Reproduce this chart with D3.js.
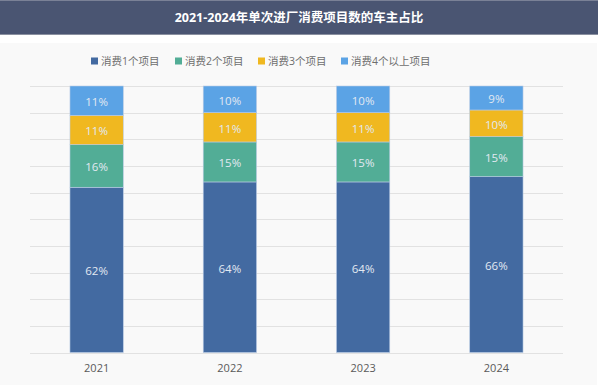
<!DOCTYPE html>
<html>
<head>
<meta charset="utf-8">
<script src="https://cdn.jsdelivr.net/npm/d3@7"></script>
<style>
  body { margin: 0; background: #ffffff; }
  svg { display: block; font-family: "Open Sans", "Noto Sans CJK SC", sans-serif; }
</style>
</head>
<body>
<svg id="chart"></svg>
<script>
const title = "2021-2024年单次进厂消费项目数的车主占比";
const years = ["2021", "2022", "2023", "2024"];
const seriesNames = ["消费1个项目", "消费2个项目", "消费3个项目", "消费4个以上项目"];
const one = [62, 64, 64, 66];
const two = [16, 15, 15, 15];
const three = [11, 11, 11, 10];
const fourPlus = [11, 10, 10, 9];
const yTicks = [0, 10, 20, 30, 40, 50, 60, 70, 80, 90, 100];

const colors = {
    "消费1个项目": "#436aa1",
    "消费2个项目": "#52ad96",
    "消费3个项目": "#f0b820",
    "消费4个以上项目": "#5ba3e5"
};

const W = 600, H = 385;
const svg = d3.select("#chart").attr("width", W).attr("height", H);

// panels
svg.append("rect").attr("x", 0).attr("y", 43).attr("width", 597).attr("height", H - 43).attr("fill", "#f9f9f9");
svg.append("rect").attr("x", 0).attr("y", 0).attr("width", 598).attr("height", 35).attr("fill", "#4a5572");
svg.append("line").attr("x1", 0).attr("x2", 598).attr("y1", 0.5).attr("y2", 0.5).attr("stroke", "#7a8196");
svg.append("line").attr("x1", 0).attr("x2", 598).attr("y1", 34.5).attr("y2", 34.5).attr("stroke", "#8a90a0");
svg.append("text")
    .attr("x", 299).attr("y", 17)
    .attr("text-anchor", "middle").attr("dominant-baseline", "central")
    .attr("fill", "#ffffff").attr("font-size", 12.5).attr("font-weight", "bold")
    .text(title);

// legend
const legendX = [91, 175, 258, 341];
const legend = svg.append("g");
seriesNames.forEach((name, i) => {
    const g = legend.append("g").attr("transform", `translate(${legendX[i]},61)`);
    g.append("rect").attr("x", 0).attr("y", -3.5).attr("width", 7).attr("height", 7).attr("fill", colors[name]);
    g.append("text").attr("x", 10).attr("y", 0).attr("dominant-baseline", "central")
        .attr("font-size", 10.5).attr("fill", "#6e6e6e").text(name);
});

const margin = { left: 30, right: 37, top: 86, bottom: 32.5 };
const x = d3.scaleBand().domain(years).range([margin.left, W - margin.right])
    .paddingInner(0.6).paddingOuter(0.3);
const y = d3.scaleLinear().domain([0, 100]).range([H - margin.bottom, margin.top]);

// gridlines
svg.append("g").selectAll("line").data(yTicks).enter().append("line")
    .attr("x1", margin.left).attr("x2", W - margin.right)
    .attr("y1", d => Math.round(y(d)) + 0.5).attr("y2", d => Math.round(y(d)) + 0.5)
    .attr("stroke", "#e2e2e2").attr("stroke-width", 1);

const data = years.map((yr, i) => ({
    year: yr,
    "消费1个项目": one[i],
    "消费2个项目": two[i],
    "消费3个项目": three[i],
    "消费4个以上项目": fourPlus[i]
}));
const layers = d3.stack().keys(seriesNames)(data);

const layerG = svg.append("g").selectAll("g").data(layers).enter().append("g")
    .attr("fill", d => colors[d.key]);
layerG.selectAll("rect").data(d => d).enter().append("rect")
    .attr("x", d => x(d.data.year))
    .attr("y", d => y(d[1]))
    .attr("width", x.bandwidth())
    .attr("height", d => y(d[0]) - y(d[1]))
    .attr("stroke", "#b9cbe4").attr("stroke-width", 0.6);

layerG.selectAll("text").data(d => d.map(v => ({ v, key: d.key }))).enter().append("text")
    .attr("x", d => x(d.v.data.year) + x.bandwidth() / 2)
    .attr("y", d => (y(d.v[0]) + y(d.v[1])) / 2 + 1)
    .attr("text-anchor", "middle").attr("dominant-baseline", "central")
    .attr("font-size", 11.5).attr("fill", "#e2e9f2")
    .text(d => (d.v[1] - d.v[0]) + "%");

// x axis
const xAxis = svg.append("g")
    .attr("transform", `translate(0,${H - margin.bottom})`)
    .call(d3.axisBottom(x).tickSize(0).tickPadding(12));
xAxis.select(".domain").remove();
xAxis.selectAll("text").attr("font-size", 11).attr("fill", "#595959")
    .attr("font-family", "\"Open Sans\", sans-serif");
</script>
</body>
</html>
